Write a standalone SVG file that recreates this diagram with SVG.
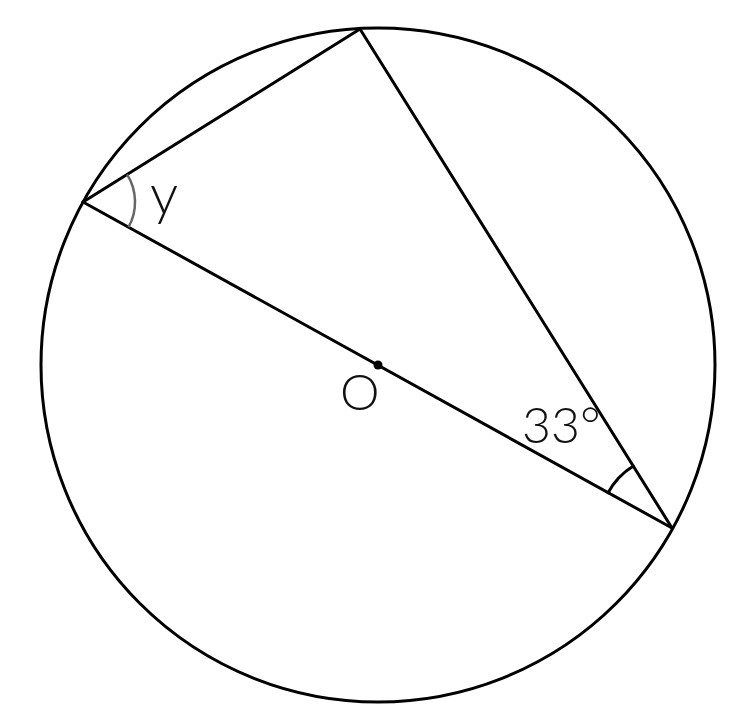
<svg xmlns="http://www.w3.org/2000/svg" width="740" height="719" viewBox="0 0 740 719">
<style>
.ln{stroke:#000;stroke-width:3;fill:none;stroke-linecap:round}
.lbl{font-family:"Lato","Noto Sans",sans-serif;font-weight:300;font-size:50px;fill:#111}
</style>
<rect width="740" height="719" fill="#fff"/>
<g id="circle"><circle cx="378" cy="365" r="337" class="ln"/></g>
<g id="connectors">
<line x1="83" y1="202" x2="360" y2="29" class="ln"/>
<line x1="360" y1="29" x2="672" y2="528" class="ln"/>
<line x1="83" y1="202" x2="672" y2="528" class="ln"/>
<path d="M127.1,174.4 A52,52 0 0 1 128.5,227.2" stroke="#666" stroke-width="2.5" fill="none"/>
<path d="M608.1,492.7 A73,73 0 0 1 633.3,466.1" class="ln"/>
</g>
<g id="center"><circle cx="378" cy="365" r="4.5" fill="#000"/></g>
<g id="labels">
<text class="lbl" x="150" y="214" style="font-size:56px">y</text>
<text class="lbl" x="340" y="410">O</text>
<text class="lbl" x="522" y="443">33°</text>
</g>
</svg>
